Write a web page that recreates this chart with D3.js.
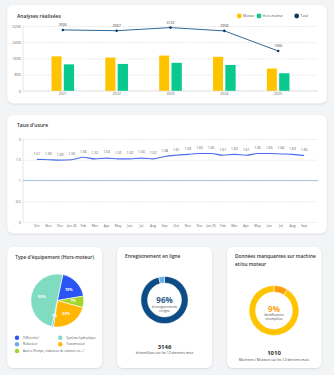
<!DOCTYPE html>
<html>
<head>
<meta charset="utf-8">
<script src="https://cdn.jsdelivr.net/npm/d3@7"></script>
<style>
body { margin: 0; background: #f3f4f6; font-family: "Open Sans", sans-serif; }
svg text { font-family: "Open Sans", sans-serif; }
</style>
</head>
<body>
<div id="charts"></div>
<script>
// analyses réalisées
const years = ["2021", "2022", "2023", "2024", "2025"];
const moteur = [1700, 1640, 1740, 1680, 1100];
const horsMoteur = [1306, 1327, 1382, 1278, 866];
const total = [3006, 2967, 3122, 2958, 1966];
const analyseTicks = [0, 800, 1600, 2400, 3200];

// taux d'usure
const months = ["Oct", "Nov", "Dec", "Jan 24", "Feb", "Mar", "Apr", "May", "Jun", "Jul", "Aug", "Sep",
                "Oct", "Nov", "Dec", "Jan 25", "Feb", "Mar", "Apr", "May", "Jun", "Jul", "Aug", "Sep"];
const usure = [1.51, 1.50, 1.49, 1.50, 1.56, 1.52, 1.54, 1.52, 1.52, 1.54, 1.52, 1.58,
               1.61, 1.63, 1.65, 1.65, 1.61, 1.63, 1.61, 1.65, 1.65, 1.64, 1.63, 1.60];
const usureTicks = [0, 0.5, 1, 1.5, 2];
const usureRef = 1;

// type d'équipement (legend order)
const equipTypes = ["Différentiel", "Système hydraulique", "Réducteur", "Transmission", "Autres (Pompe, réducteur de rotation etc...)"];
const equipValues = [19, 50, 1, 23, 7];
const equipColors = ["#2a55f4", "#7fdcc1", "#6aaee0", "#ffb703", "#a2d62b"];
// order the slices are drawn clockwise
const pieOrder = [0, 4, 3, 2, 1];

// enregistrement en ligne
const enLigne = [96, 4];
const echantillons = 3146;
// données manquantes
const incompletes = [9, 91];
const machines = 1010;

const W = 334, H = 375;
const svg = d3.select('#charts').append('svg').attr('width', W).attr('height', H);

const defs = svg.append('defs');
const f = defs.append('filter').attr('id', 'sh').attr('x', '-10%').attr('y', '-10%').attr('width', '120%').attr('height', '130%');
f.append('feDropShadow').attr('dx', 0).attr('dy', 0.8).attr('stdDeviation', 1.2).attr('flood-color', '#000').attr('flood-opacity', 0.12);

function card(x, y, w, h) {
    svg.append('rect').attr('x', x).attr('y', y).attr('width', w).attr('height', h)
        .attr('rx', 6).attr('fill', '#fff').attr('filter', 'url(#sh)');
}
function title(x, y, t, size) {
    return svg.append('text').attr('x', x).attr('y', y).attr('font-size', size || 5)
        .attr('font-weight', 600).attr('fill', '#333').attr('dominant-baseline', 'middle').text(t);
}

card(7.3, 5, 319.4, 98.3);
card(7.3, 115, 319.4, 118.3);
card(7.3, 247, 94.7, 121);
card(117, 247, 95, 121);
card(227, 247, 94.3, 121);

//--- analyses réalisées
title(17, 16.3, "Analyses réalisées");
{
    const x = d3.scalePoint().domain(years).range([23, 318]).padding(0.74);
    const y = d3.scaleLinear().domain([0, 3200]).range([90.8, 26]);
    const g = svg.append('g');
    g.append('g').attr('transform', 'translate(23,0)')
        .call(d3.axisLeft(y).tickValues(analyseTicks).tickSize(-295).tickPadding(2).tickFormat(d => d))
        .call(a => a.select('.domain').remove())
        .call(a => a.selectAll('line').attr('stroke', '#dcdcdc').attr('stroke-dasharray', '1,1.5'))
        .call(a => a.selectAll('text').attr('font-size', 3.8).attr('fill', '#666'));
    g.append('line').attr('x1', 23).attr('x2', 23).attr('y1', 26).attr('y2', 90.8).attr('stroke', '#e6e6e6');
    g.append('line').attr('x1', 23).attr('x2', 318).attr('y1', 90.8).attr('y2', 90.8).attr('stroke', '#e6e6e6');

    g.selectAll('.m').data(moteur).enter().append('rect')
        .attr('x', (d, i) => x(years[i]) - 11.3).attr('width', 10)
        .attr('y', d => y(d)).attr('height', d => y(0) - y(d)).attr('fill', '#ffc400');
    g.selectAll('.h').data(horsMoteur).enter().append('rect')
        .attr('x', (d, i) => x(years[i]) + 1).attr('width', 10.3)
        .attr('y', d => y(d)).attr('height', d => y(0) - y(d)).attr('fill', '#0ac98f');

    const line = d3.line().x((d, i) => x(years[i])).y(d => y(d));
    g.append('path').datum(total).attr('d', line).attr('fill', 'none').attr('stroke', '#2f6a9c').attr('stroke-width', 1);
    g.selectAll('.pt').data(total).enter().append('circle')
        .attr('cx', (d, i) => x(years[i])).attr('cy', d => y(d)).attr('r', 1.3).attr('fill', '#0d3b66');
    g.selectAll('.tl').data(total).enter().append('text')
        .attr('x', (d, i) => x(years[i])).attr('y', d => y(d) - 3.5)
        .attr('text-anchor', 'middle').attr('font-size', 3.6).attr('fill', '#444').text(d => d);

    g.selectAll('.xl').data(years).enter().append('text')
        .attr('x', d => x(d)).attr('y', 94.5).attr('dominant-baseline', 'middle')
        .attr('text-anchor', 'middle').attr('font-size', 3.6).attr('fill', '#666').text(d => d);

    const legend = [["Moteur", "#ffc400", 239.3], ["Hors-moteur", "#0ac98f", 259], ["Total", "#0d3b66", 296.7]];
    legend.forEach(l => {
        g.append('circle').attr('cx', l[2]).attr('cy', 16).attr('r', 2.4).attr('fill', l[1]);
        g.append('text').attr('x', l[2] + 3.6).attr('y', 16.2).attr('dominant-baseline', 'middle')
            .attr('font-size', 3.4).attr('fill', '#555').text(l[0]);
    });
}

//--- taux d'usure
title(17, 126, "Taux d'usure");
{
    const x = d3.scalePoint().domain(d3.range(months.length)).range([23, 318]).padding(1.19);
    const y = d3.scaleLinear().domain([0, 2]).range([222, 139]);
    const g = svg.append('g');
    g.append('g').attr('transform', 'translate(23,0)')
        .call(d3.axisLeft(y).tickValues(usureTicks).tickSize(-295).tickPadding(2).tickFormat(d => d))
        .call(a => a.select('.domain').remove())
        .call(a => a.selectAll('line').attr('stroke', '#dcdcdc').attr('stroke-dasharray', '1,1.5'))
        .call(a => a.selectAll('text').attr('font-size', 3.8).attr('fill', '#666'));
    g.append('line').attr('x1', 23).attr('x2', 23).attr('y1', 139).attr('y2', 222).attr('stroke', '#e6e6e6');
    g.append('line').attr('x1', 23).attr('x2', 318).attr('y1', y(usureRef)).attr('y2', y(usureRef))
        .attr('stroke', '#a9c8e6').attr('stroke-width', 1);

    const line = d3.line().x((d, i) => x(i)).y(d => y(d)).curve(d3.curveMonotoneX);
    g.append('path').datum(usure).attr('d', line).attr('fill', 'none').attr('stroke', '#4a6cf0').attr('stroke-width', 1.1);
    g.selectAll('.vl').data(usure).enter().append('text')
        .attr('x', (d, i) => x(i)).attr('y', d => y(d) - 5.5).attr('dominant-baseline', 'middle')
        .attr('text-anchor', 'middle').attr('font-size', 3.4).attr('fill', '#555').text(d => d.toFixed(2));

    g.selectAll('.xl').data(months).enter().append('text')
        .attr('x', (d, i) => x(i)).attr('y', 226).attr('dominant-baseline', 'middle')
        .attr('text-anchor', 'middle').attr('font-size', 3.4).attr('fill', '#666').text(d => d);
}

//--- type d'équipement
title(15.3, 257.3, "Type d'équipement (Hors-moteur)", 4.8);
{
    const cx = 57.3, cy = 300.5, r = 26.5;
    const ordered = pieOrder.map(i => ({ i: i, v: equipValues[i] }));
    const pie = d3.pie().sort(null).value(d => d.v)
        .startAngle(12 * Math.PI / 180).endAngle(372 * Math.PI / 180);
    const arc = d3.arc().innerRadius(0).outerRadius(r);
    const lab = d3.arc().innerRadius(r * 0.6).outerRadius(r * 0.6);
    const sum = d3.sum(equipValues);
    const g = svg.append('g').attr('transform', `translate(${cx},${cy})`);
    const arcs = pie(ordered);
    g.selectAll('path').data(arcs).enter().append('path').attr('d', arc)
        .attr('fill', d => equipColors[d.data.i]).attr('stroke', '#fff').attr('stroke-width', 0.6);
    g.selectAll('text').data(arcs).enter().append('text')
        .attr('transform', d => `translate(${lab.centroid(d)})`)
        .attr('text-anchor', 'middle').attr('dominant-baseline', 'middle')
        .attr('font-size', 3.8).attr('font-weight', 700).attr('fill', '#fff')
        .text(d => Math.round(d.data.v / sum * 100) + '%');

    const lx = [17, 60.3], ly = [337.7, 344.3, 351];
    equipTypes.forEach((t, i) => {
        const px = lx[i % 2], py = ly[Math.floor(i / 2)];
        svg.append('circle').attr('cx', px).attr('cy', py).attr('r', 2.2).attr('fill', equipColors[i]);
        svg.append('text').attr('x', px + 6).attr('y', py + 0.2).attr('dominant-baseline', 'middle')
            .attr('font-size', 3).attr('fill', '#555').text(t);
    });
}

//--- donuts
function donut(cx, cy, r0, r1, values, colors) {
    const pie = d3.pie().sort(null);
    const arc = d3.arc().innerRadius(r0).outerRadius(r1);
    svg.append('g').attr('transform', `translate(${cx},${cy})`)
        .selectAll('path').data(pie(values)).enter().append('path')
        .attr('d', arc).attr('fill', (d, i) => colors[i]).attr('stroke', '#fff').attr('stroke-width', 0.5);
}
function ctext(x, y, t, size, color, weight) {
    svg.append('text').attr('x', x).attr('y', y).attr('text-anchor', 'middle')
        .attr('font-size', size).attr('fill', color).attr('font-weight', weight || 400).text(t);
}

title(125, 256.7, "Enregistrement en ligne", 4.8);
donut(164.5, 300, 17, 23.6, enLigne, ["#0e4c85", "#6ab0e8"]);
ctext(164.5, 303.2, enLigne[0] + "%", 8, "#2f5d8a", 700);
ctext(164.5, 307.8, "d'enregistrements", 3, "#444");
ctext(164.5, 311.8, "en ligne", 3, "#444");
ctext(164.5, 349, echantillons, 6, "#333", 700);
ctext(164.5, 354.3, "échantillons sur les 12 derniers mois", 3.4, "#444");

title(235, 256.7, "Données manquantes sur machine", 4.8);
title(235, 265, "et/ou moteur", 4.8);
donut(274, 310.5, 18.5, 25, incompletes, ["#ff9d0a", "#ffc400"]);
ctext(274, 312, incompletes[0] + "%", 8, "#ffa41b", 700);
ctext(274, 316, "Identifications", 3, "#444");
ctext(274, 320, "incomplètes", 3, "#444");
ctext(274, 354.5, machines, 6, "#333", 700);
ctext(274, 361.3, "Machines / Moteurs sur les 12 derniers mois", 3.4, "#444");
</script>
</body>
</html>
